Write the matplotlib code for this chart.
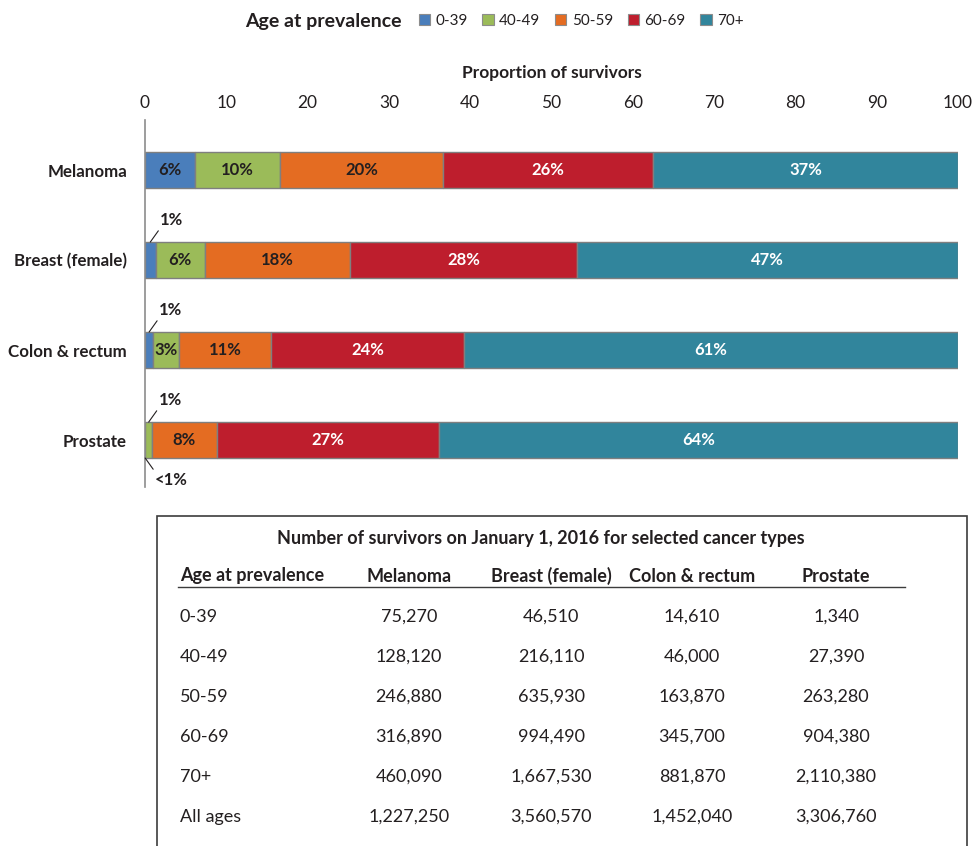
import matplotlib.pyplot as plt
from matplotlib.patches import Patch, Rectangle
from matplotlib.lines import Line2D

plt.rcParams['font.family'] = ['Lato', 'DejaVu Sans']

cancers = ['Melanoma', 'Breast (female)', 'Colon & rectum', 'Prostate']
ages = ['0-39', '40-49', '50-59', '60-69', '70+']
colors = ['#4a7ebb', '#9bbb59', '#e46c22', '#be1e2d', '#31859c']
label_colors = ['#231f20', '#231f20', '#231f20', 'white', 'white']

# survivors counts by age group for each cancer
melanoma = [75270, 128120, 246880, 316890, 460090]
breast = [46510, 216110, 635930, 994490, 1667530]
colon = [14610, 46000, 163870, 345700, 881870]
prostate = [1340, 27390, 263280, 904380, 2110380]
all_ages = [1227250, 3560570, 1452040, 3306760]
counts = [melanoma, breast, colon, prostate]

TXT = '#231f20'

fig = plt.figure(figsize=(9.72, 8.46), dpi=100)
ax = fig.add_axes([145 / 972, 1 - 487 / 846, 813 / 972, 367 / 846])

for i, row in enumerate(counts):
    total = sum(row)
    left = 0
    for j, c in enumerate(row):
        pct = c / total * 100
        ax.barh(i, pct, left=left, height=0.4, color=colors[j],
                edgecolor='#7f7f7f', linewidth=1)
        if pct >= 2:
            ax.text(left + pct / 2, i, f'{round(pct)}%', ha='center', va='center',
                    fontsize=12, fontweight='bold', color=label_colors[j])
        else:
            lab = '<1%' if pct < 0.5 else f'{round(pct)}%'
            # small segments get a leader line, above unless it is the tiny prostate one
            below = (i == 3 and j == 0)
            if below:
                ax.annotate(lab, xy=(left + pct / 2, i + 0.2), xytext=(10, -22),
                            textcoords='offset pixels', ha='left', va='center',
                            fontsize=12, fontweight='bold', color=TXT,
                            arrowprops=dict(arrowstyle='-', color=TXT, lw=0.8,
                                            relpos=(0, 1), shrinkA=0, shrinkB=0))
            else:
                ax.annotate(lab, xy=(left + pct / 2, i - 0.2), xytext=(10, 22),
                            textcoords='offset pixels', ha='left', va='center',
                            fontsize=12, fontweight='bold', color=TXT,
                            arrowprops=dict(arrowstyle='-', color=TXT, lw=0.8,
                                            relpos=(0, 0), shrinkA=0, shrinkB=0))
        left += pct

ax.set_xlim(0, 100)
ax.set_ylim(3.522, -0.556)
ax.set_xticks(range(0, 101, 10))
ax.set_yticks(range(len(cancers)))
ax.set_yticklabels(cancers, fontsize=12.2, fontweight='bold', color=TXT)
ax.xaxis.tick_top()
ax.xaxis.set_label_position('top')
ax.tick_params(axis='x', length=0, pad=6.5, labelsize=12.5, labelcolor=TXT)
ax.tick_params(axis='y', length=0, pad=13)
ax.set_xlabel('Proportion of survivors', fontsize=12.5, fontweight='bold',
              color=TXT, labelpad=12)
for s in ['top', 'right', 'bottom']:
    ax.spines[s].set_visible(False)
ax.spines['left'].set_color('#8c8c8c')
ax.spines['left'].set_linewidth(1.2)

# legend
fig.text(402 / 972, 1 - 21 / 846, 'Age at prevalence', ha='right', va='center',
         fontsize=14, fontweight='bold', color=TXT)
handles = [Patch(facecolor=c, edgecolor='#8c8c8c', linewidth=0.8) for c in colors]
fig.legend(handles, ages, loc='center left', bbox_to_anchor=(405 / 972, 1 - 21 / 846),
           ncol=5, frameon=False, fontsize=11, handlelength=0.75, handleheight=0.75,
           handletextpad=0.35, columnspacing=0.95, labelcolor=TXT)

# table of counts
fig.add_artist(Rectangle((157 / 972, -0.05), 810 / 972, 1 - 516 / 846 + 0.05,
                         transform=fig.transFigure, fill=False,
                         edgecolor='#3c3c3c', linewidth=1.2))
fig.text(541 / 972, 1 - 538 / 846,
         'Number of survivors on January 1, 2016 for selected cancer types',
         ha='center', va='center', fontsize=13, fontweight='bold', color=TXT)
col_x = [409, 551, 692, 836]
head_y = 1 - 576 / 846
fig.text(180 / 972, head_y, 'Age at prevalence', ha='left', va='center',
         fontsize=13, fontweight='bold', color=TXT)
for x, name in zip(col_x, cancers):
    fig.text(x / 972, head_y, name, ha='center', va='center', fontsize=13,
             fontweight='bold', color=TXT)
fig.add_artist(Line2D([178 / 972, 905 / 972], [1 - 587 / 846] * 2,
                      transform=fig.transFigure, color='#3c3c3c', lw=1))

row_names = ages + ['All ages']
for r, name in enumerate(row_names):
    y = 1 - (617 + 40 * r) / 846
    fig.text(180 / 972, y, name, ha='left', va='center', fontsize=13, color=TXT)
    for x, row, tot in zip(col_x, counts, all_ages):
        v = tot if r == len(ages) else row[r]
        fig.text(x / 972, y, f'{v:,}', ha='center', va='center', fontsize=13,
                 color=TXT)

fig.savefig('out.png', dpi=100)
